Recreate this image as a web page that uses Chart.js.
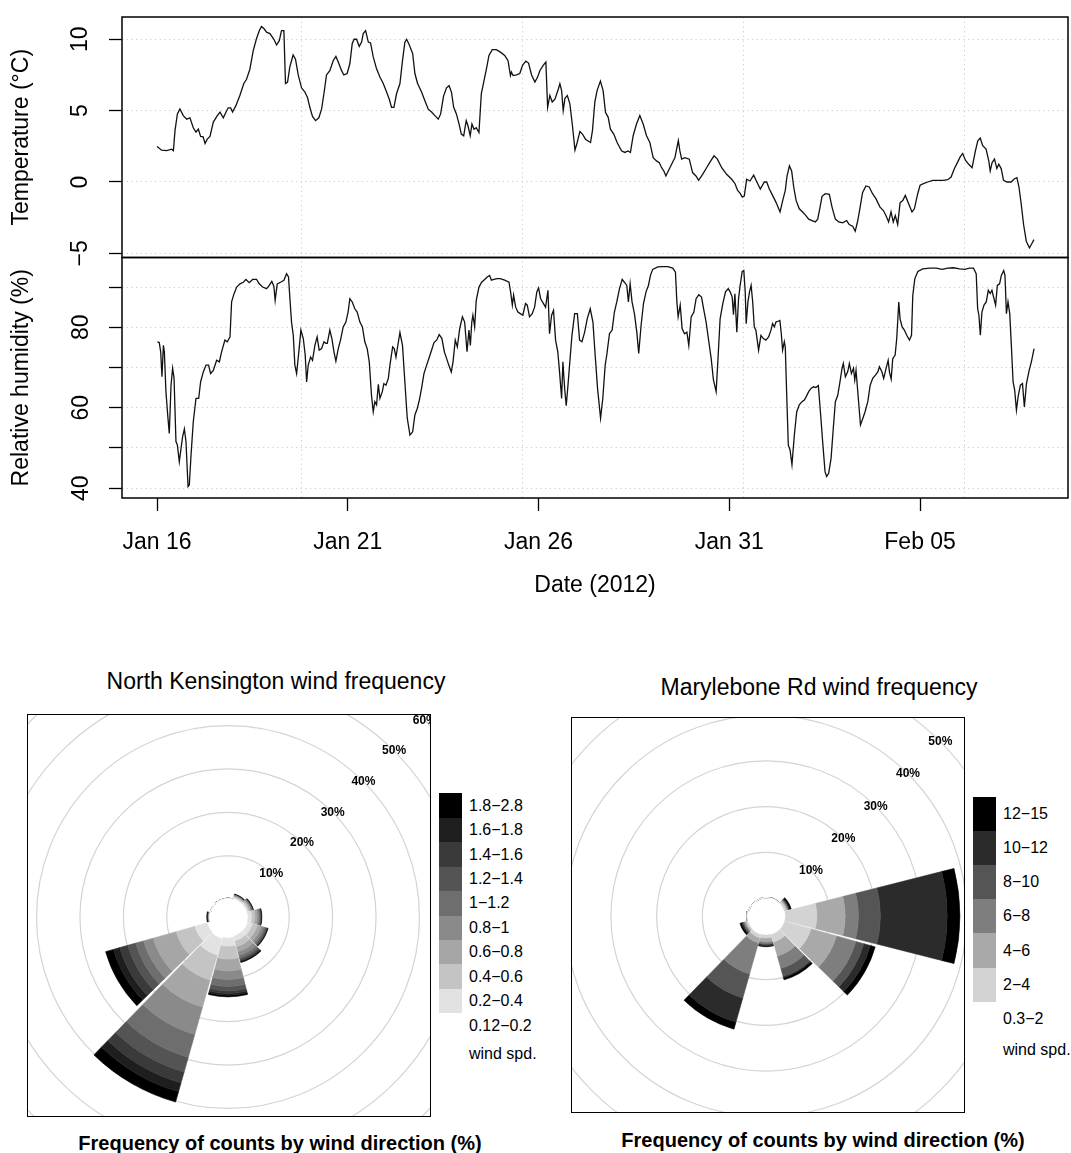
<!DOCTYPE html>
<html>
<head>
<meta charset="utf-8">
<title>Temperature, humidity and wind frequency, January–February 2012</title>
<script src="https://cdn.jsdelivr.net/npm/chart.js@4.4.1/dist/chart.umd.min.js"></script>
<style>
  html, body { margin: 0; padding: 0; background: #fff; }
  body { width: 1071px; height: 1153px; position: relative; overflow: hidden;
         font-family: "Liberation Sans", Arial, Helvetica, sans-serif; color: #000; }
  #met { position: absolute; left: 0; top: 0; }
  .rose-box { position: absolute; box-sizing: border-box; border: 1.5px solid #000; overflow: hidden; background: #fff; }
  .rose-box canvas { position: absolute; }
  .rose-title { position: absolute; font-size: 23px; line-height: 23px; white-space: nowrap; transform: translateX(-50%); }
  .rose-sub { position: absolute; font-size: 20px; line-height: 20px; font-weight: bold; white-space: nowrap; transform: translateX(-50%); }
  .key-swatch { position: absolute; width: 23px; }
  .key-label { position: absolute; font-size: 16px; line-height: 16px; white-space: nowrap; }
</style>
</head>
<body>
<canvas id="met" width="1071" height="620"></canvas>

<div class="rose-title" style="left:276px; top:670px;">North Kensington wind frequency</div>
<div class="rose-box" style="left:27px; top:714px; width:404px; height:403px;">
  <canvas id="nkRose" width="600" height="600" style="left:-100px; top:-98px;"></canvas>
</div>
<div id="nkKey"></div>
<div class="rose-sub" style="left:280px; top:1133px;">Frequency of counts by wind direction (%)</div>

<div class="rose-title" style="left:819px; top:676px;">Marylebone Rd wind frequency</div>
<div class="rose-box" style="left:571px; top:717px; width:394px; height:396px;">
  <canvas id="mrRose" width="600" height="600" style="left:-106px; top:-102px;"></canvas>
</div>
<div id="mrKey"></div>
<div class="rose-sub" style="left:823px; top:1130px;">Frequency of counts by wind direction (%)</div>

<script>
// ---------------------------------------------------------------------------
// Hourly met series, hours after 2012-01-16 00:00
// ---------------------------------------------------------------------------
const tempHour = [0,2.9,6,9.2,10.3,11.3,12.8,14.4,16.5,18.7,20.7,22.8,24.5,26,27.4,29,30.2,31.6,33.3,35.4,37.9,39.6,41.7,43.4,44.8,46.3,47.5,49.6,52.1,54.6,56.3,58.4,60.5,62.6,64.3,65.7,67.2,68.9,71,73.5,75.2,76.9,78.3,79.8,80.8,82.1,83.5,85.6,87.1,88.8,90.9,93,94.7,96.2,97.8,99.7,101.8,103.5,105,106.6,108.7,110.8,112.5,114,116.1,117.5,119.6,121.3,122.8,124,125.5,127.2,128.7,129.7,131.2,132.9,134.3,136,138.1,140.2,142.3,144.4,146.1,147.5,149,150.7,152.8,154.4,155.9,157,158.7,160.8,162.2,163.9,166.4,168.5,170.6,172.7,174.8,176.9,178.4,180.2,182.1,183.7,185.2,186.6,188.3,190,191.4,192.9,194.5,195.6,197,198.1,199.4,200.8,202.5,204,205.5,207.2,208.8,210.9,213.4,216,218.7,220.8,222.3,222.9,224,226.1,228.2,229.9,232,233.7,235.6,237.7,239.4,240.8,242.9,244.6,245.7,247.1,248.6,250.3,252.4,253.4,254.5,255.5,256.6,258.1,259.7,261.2,262.9,264.3,266,267.6,269.5,272.7,273.9,275.4,276.8,278.9,280.6,282.1,283.8,285.2,287.3,289.4,292.2,294.2,296.3,297.8,299.5,301.6,303.7,305.8,307.9,310,312.1,314.2,315.9,317.4,318.8,320.1,321.6,323.7,325.8,327.9,328.9,330,332.1,334.8,336.9,339,340.7,343.2,345.7,348.3,350.4,352.5,355.2,358.3,361.5,363.6,365.2,366.7,368.2,369.4,370.9,373,375.3,377.4,379.5,382,383.5,385.1,387.2,389.3,391.9,393.6,395.2,396.3,397.8,399.2,400.5,402,404,406.1,407.8,409.9,412,414.1,415.6,417,418.3,420.4,422.9,424.6,426.7,428.8,431.3,433.8,435.4,437.6,439.2,440.7,442.2,443.8,445.9,448,450.1,452.2,454.8,456.9,458.5,460.2,461.7,463.1,464.4,465.9,467.4,469.1,470.7,472.8,474.9,476.4,478.5,480,482.1,484.8,488,491.1,494.3,497.4,499.5,501.6,503.7,505.2,506.8,508.5,510.6,512.7,514.8,516.3,517.8,519.4,521.5,523.2,524.1,525.3,526.8,528.3,529.5,531,532.5,534.6,537.3,539.4,540.9,542.2,543.6,545.1,546.8,548.8,550.5,551.6];
const tempC = [2.49,2.23,2.2,2.3,2.2,3.6,4.77,5.12,4.65,4.4,4.5,3.8,3.5,3.7,3.2,3.17,2.7,3.0,3.2,4.2,4.65,4.9,4.5,4.9,5.2,5.2,4.9,5.35,6.06,6.9,7.2,7.9,9.2,10.05,10.6,10.9,10.75,10.5,10.4,10.0,9.6,9.9,10.6,10.6,6.9,7.0,8.05,8.9,8.6,7.5,6.6,6.3,5.9,5.2,4.6,4.3,4.5,5.1,6.2,7.5,7.8,8.5,8.8,8.4,7.8,7.5,7.6,8.3,9.7,10.0,10.0,9.5,9.8,10.4,10.6,9.8,9.74,8.76,7.93,7.35,6.9,6.3,5.8,5.23,5.23,6.2,6.9,8.5,9.8,10.0,9.6,9.0,7.6,6.9,6.3,5.7,5.1,4.9,4.65,4.4,4.77,6.0,6.6,6.75,6.3,5.23,4.77,4.06,3.36,3.24,4.3,3.94,3.24,4.06,3.7,3.8,3.47,6.2,7.0,7.93,8.87,9.27,9.27,9.1,8.87,8.5,7.46,7.7,7.46,7.5,7.6,8.17,8.47,8.33,7.5,7.0,7.35,7.8,8.17,8.4,5.23,6.06,5.6,5.8,6.5,6.88,6.4,5.0,5.87,6.06,5.47,4.06,2.23,2.77,3.54,3.36,3.0,2.77,3.6,5.6,6.4,7.07,6.4,4.88,4.53,3.7,3.36,2.77,2.18,2.07,2.18,2.07,3.24,4.06,4.65,4.06,3.24,2.77,1.71,1.48,1.36,1.0,0.77,0.42,0.77,1.24,1.71,2.9,2.18,1.6,1.71,1.6,0.66,0.42,0.12,0.54,1.0,1.48,1.83,1.6,1.0,0.54,0.19,-0.12,-0.59,-0.78,-1.06,-0.99,0.19,0.07,0.48,-0.02,-0.5,0,0,-0.47,-0.94,-1.41,-2.1,-1.29,-0.59,0.42,1.13,0.77,-0.35,-1.29,-1.88,-2.1,-2.3,-2.6,-2.7,-2.8,-2.6,-1.81,-1.0,-0.82,-0.87,-1.76,-2.6,-2.8,-2.86,-2.7,-2.98,-3.1,-3.45,-2.75,-1.81,-0.75,-0.28,-0.35,-0.82,-1.17,-1.76,-2.0,-2.35,-2.8,-2.1,-2.8,-2.35,-2.98,-1.46,-1.3,-0.94,-1.53,-2.1,-1.88,-0.82,-0.23,-0.12,0,0.12,0.12,0.12,0.16,0.35,0.94,1.41,1.76,2.0,1.53,1.24,1.0,2.18,2.89,3.08,2.54,2.3,1.48,0.77,1.36,1.6,0.94,1.24,0.94,0.12,0,0,0.23,0.3,-0.35,-1.53,-2.98,-4.15,-4.62,-4.27,-4.04];

const rhHour = [0.2,1.4,2.3,3.1,4,4.6,5.6,6.7,7.7,8.8,9.8,10.7,11.9,12.8,14,15.1,16.1,17.2,18.2,19.5,20.3,21.4,22.8,24.5,26.2,27.4,29.1,30.8,32.4,33.7,35.4,37.5,39.2,40.6,42.7,44.2,45.9,46.9,48.4,50.1,52.2,54.3,55.9,58,60.1,62.6,64.3,66.4,68.9,70.6,72.2,73.5,74.3,75.6,77.7,79.8,81.5,82.7,83.6,84.6,85.7,86.7,87.8,89.2,90.5,92,93.2,94.1,95.1,96.6,97.8,99.3,100.7,102,103.5,105,106.2,107.1,108.7,110,111.3,112.5,114,115.4,117.1,118.8,120.2,121.3,122.8,124.4,125.9,127.6,129.2,130.7,132.2,133.5,134.9,136,137,138.1,139.2,140.2,141.7,142.7,144,145.5,146.5,148.2,149.2,150.3,151.3,152.8,154.4,155.9,157.4,159.1,160.8,162.2,163.7,165,166.4,167.9,169.6,171.3,172.7,174.2,175.9,177.5,179.2,180.8,182.2,183.5,185.1,186.2,187.6,188.9,190.4,192.1,193.5,195,196.2,197.1,198,198.7,199.8,200.8,202.5,204.2,206.1,207.7,209.2,210.3,211.9,213.8,215.9,218.7,221.4,222.4,223.5,224.3,225.6,227,228.5,230.1,231.8,232.9,234.3,236,237.5,238.9,240,241.3,243.1,244.4,245.9,246.9,248.2,249.4,250.7,252.1,253.2,254.5,255.3,256.4,257.4,258.5,259.5,261,262.7,264.4,265.8,267.3,269,270.6,272.5,274.2,275.6,277.1,279,280.4,281.9,282.9,284.6,286.3,287.7,289.2,290.9,292.6,294,295.5,296.5,297.6,298.8,300.3,301.8,303,304.5,306,307.6,309.1,310.4,311.8,315,318.1,321.3,324.4,326.1,327,327.8,329.1,330.3,331.8,333.3,334.5,336,337.7,339.1,340.8,342.5,344,345.4,347.1,348.6,350,351.7,353,354.2,355.9,357.6,359.3,360.5,361.8,362.6,363.5,364.7,365.8,366.8,368.1,369.1,370,370.6,371.7,372.7,373.7,374.7,375.7,376.7,378.4,379.9,381.4,383,384.7,386.2,387.2,388.3,389.3,390.6,391.8,392.7,393.5,394.6,395.2,396.1,397.1,398.2,399.4,400.9,402.4,404,405.7,407.2,408.3,409.9,411.4,412.9,414.5,416,417.3,418.7,420.2,421.2,422.5,424,425.4,426.7,428.2,429.6,430.9,431.7,433,434.5,435.5,436.8,438.1,438.9,439.7,440.8,442.5,444,445.4,447.1,448.6,450.2,451.9,453.4,454.4,455.9,457.1,458.6,459.9,460.7,461.8,462.8,464.3,465.3,466.6,467.4,468.7,470.1,471.6,473.3,474.6,475.4,476.7,478.6,481.7,485.9,490.1,493.9,497.4,501,504.8,508,511.1,513.6,515.3,516.2,517,517.9,518.9,520.2,521.6,522.9,524.1,525.2,526.5,527.5,528.6,530,531.1,532.6,533.4,534.3,535.3,536.4,537.4,538.5,539.5,540.6,541.8,543.1,544.4,545.6,546.9,548.6,550,551.7];
const rhPct = [76.4,76.2,73.9,67.7,75.5,73.9,64.0,58.2,53.6,65.6,69.8,67.3,51.6,50.7,46.6,49.9,52.8,54.7,51.6,40.4,40.8,48.3,56.5,62.3,62.3,66.4,68.9,70.6,70.6,68.5,69.3,71.8,71.4,73.9,76.8,76.4,77.6,86.3,88.3,90.0,90.8,91.2,91.9,91.1,91.9,91.9,90.8,90.0,89.6,90.4,91.4,90.2,86.7,90.8,91.2,91.7,93.3,92.5,87.1,81.3,78.0,70.6,68.5,73.9,79.3,77.2,73.1,66.4,70.6,72.6,71.8,75.5,77.6,74.3,74.7,76.4,76.0,76.0,79.3,77.2,73.9,71.6,74.7,76.8,80.1,81.3,83.8,87.1,86.3,84.6,83.8,81.3,80.1,76.4,74.7,71.4,63.1,59.0,61.5,60.7,65.8,62.3,64.0,66.0,65.6,67.3,70.6,75.1,74.7,72.6,75.1,78.7,75.5,66.4,57.4,53.2,54.0,58.2,59.8,61.9,64.8,68.5,70.6,72.6,74.3,76.2,76.8,78.2,77.2,73.8,72.2,70.6,68.9,71.4,76.8,75.1,79.7,82.6,81.3,73.9,79.3,75.5,81.3,83.0,80.1,86.7,90.0,91.2,91.9,92.5,92.9,91.7,91.9,92.1,92.1,91.7,91.2,88.8,85.5,88.0,85.0,83.8,83.4,83.0,85.9,85.5,82.6,83.4,85.0,88.8,89.8,87.1,85.9,85.0,89.2,78.4,83.0,84.2,76.8,73.9,68.9,62.3,71.4,64.8,60.5,65.6,70.6,78.0,83.4,83.4,76.8,76.4,78.8,82.1,84.6,81.3,73.1,64.8,57.4,62.3,70.6,73.1,78.4,79.3,83.8,86.3,89.6,91.9,91.2,90.4,86.3,90.8,86.3,83.4,78.8,73.5,80.5,85.9,88.8,90.4,92.9,94.4,95.0,95.1,95.1,94.7,93.7,86.3,82.6,85.5,79.7,78.4,78.8,75.5,82.6,83.8,87.1,88.1,87.5,84.2,81.3,76.4,72.2,66.9,64.0,73.1,82.1,85.9,88.8,89.6,88.8,87.5,83.1,88.3,78.8,87.1,90.4,93.9,94.1,88.8,80.9,86.3,88.8,90.4,86.3,80.1,79.3,74.3,78.0,77.2,76.8,77.6,79.3,80.9,80.1,81.3,81.5,81.7,78.4,74.3,76.4,75.1,63.1,50.7,49.5,45.8,53.2,59.0,60.7,61.5,61.9,62.7,64.0,64.8,65.2,65.0,65.5,59.0,51.6,44.1,42.9,43.7,47.4,54.9,61.5,63.1,66.4,69.8,71.0,67.7,69.0,71.0,68.5,69.8,66.9,69.3,64.0,55.7,57.4,59.0,61.5,65.6,67.3,68.1,68.9,70.2,69.0,67.3,69.8,71.8,68.9,67.1,72.2,73.1,77.2,86.3,82.1,80.1,79.3,78.0,76.8,78.0,87.9,92.1,93.9,94.5,94.7,94.7,94.4,94.7,94.8,94.5,94.4,94.7,94.7,93.3,84.6,83.0,78.0,83.8,85.5,86.3,89.2,88.4,89.2,87.1,85.5,90.4,90.8,92.9,94.1,92.9,83.4,86.3,83.4,75.5,66.4,64.4,59.4,63.1,65.6,66.0,60.2,66.0,69.3,71.4,74.7];

// Date axis: labelled days, and the reference grid every 500 000 s of epoch time
const dateTickHours = [0, 120, 240, 360, 480];
const dateTickLabels = ['Jan 16', 'Jan 21', 'Jan 26', 'Jan 31', 'Feb 05'];
const epochGridSeconds = [1327000000, 1327500000, 1328000000, 1328500000];
const epochOrigin = 1326672000;           // 2012-01-16 00:00 UTC
const tempTicks = [-5, 0, 5, 10];
const rhTicks = [40, 50, 60, 70, 80, 90];
const rhLabelled = [40, 60, 80];

// ---------------------------------------------------------------------------
// Wind roses: 12 sectors of 30°, percentage of hours per speed bin
// ---------------------------------------------------------------------------
const sectors = ['N', 'NNE', 'ENE', 'E', 'ESE', 'SSE', 'S', 'SSW', 'WSW', 'W', 'WNW', 'NNW'];
const ringPct = [10, 20, 30, 40, 50, 60];

// North Kensington, speed bins (lowest first)
const nkBinLabels = ['0.12\u22120.2', '0.2\u22120.4', '0.4\u22120.6', '0.6\u22120.8', '0.8\u22121',
                     '1\u22121.2', '1.2\u22121.4', '1.4\u22121.6', '1.6\u22121.8', '1.8\u22122.8'];
const nkBin0 = [0.1, 0.2, 0.25, 0.35, 0.5, 0.4, 0.6, 1.0, 0.8, 0.1, 0.1, 0.1];
const nkBin1 = [0.1, 0.3, 0.4, 0.95, 1.2, 1.2, 2.0, 4.0, 3.0, 0.1, 0, 0.1];
const nkBin2 = [0, 0.25, 0.35, 0.75, 1.2, 1.4, 3.0, 6.0, 4.5, 0.05, 0, 0];
const nkBin3 = [0, 0.2, 0.3, 0.55, 0.9, 1.2, 2.7, 6.5, 5.5, 0.05, 0, 0];
const nkBin4 = [0, 0.1, 0.2, 0.4, 0.6, 0.9, 2.0, 6.5, 2.3, 0.05, 0, 0];
const nkBin5 = [0, 0.05, 0.15, 0.25, 0.4, 0.6, 1.6, 5.5, 1.9, 0.05, 0, 0];
const nkBin6 = [0, 0.05, 0.1, 0.15, 0.3, 0.4, 1.0, 3.5, 1.9, 0.05, 0, 0];
const nkBin7 = [0, 0.05, 0.05, 0.1, 0.15, 0.3, 0.6, 2.6, 1.9, 0.05, 0, 0];
const nkBin8 = [0, 0.05, 0.05, 0.1, 0.1, 0.15, 0.4, 2.1, 1.5, 0.1, 0, 0];
const nkBin9 = [0, 0.15, 0.15, 0.1, 0.15, 0.25, 0.4, 2.5, 1.9, 0.2, 0, 0];

// Marylebone Road, speed bins (lowest first)
const mrBinLabels = ['0.3\u22122', '2\u22124', '4\u22126', '6\u22128', '8\u221210', '10\u221212', '12\u221215'];
const mrBin0 = [0.1, 0.1, 0.1, 0.2, 0.2, 0.2, 0.1, 0.2, 0.1, 0.1, 0, 0];
const mrBin1 = [0, 0.1, 0.5, 7.0, 6.1, 1.8, 0.8, 0.8, 0.4, 0.2, 0, 0];
const mrBin2 = [0, 0, 0.3, 6.2, 5.8, 3.2, 0.8, 1.2, 0.3, 0, 0, 0];
const mrBin3 = [0, 0, 0.2, 2.9, 4.4, 2.8, 0.4, 7.05, 0.3, 0, 0, 0];
const mrBin4 = [0, 0, 0.1, 4.8, 1.8, 1.8, 0.2, 5.45, 0.2, 0, 0, 0];
const mrBin5 = [0, 0, 0.2, 14.6, 1.5, 0.3, 0.3, 5.5, 0.3, 0, 0, 0];
const mrBin6 = [0, 0, 0.4, 2.8, 1.1, 0.5, 0.2, 1.6, 0.4, 0, 0, 0];

// ---------------------------------------------------------------------------
// Styling
// ---------------------------------------------------------------------------
const FONT = '"Liberation Sans", Arial, Helvetica, sans-serif';
Chart.defaults.font.family = FONT;
Chart.defaults.color = '#000';

const nkGreys = ['#ffffff', '#e2e2e2', '#c4c4c4', '#a6a6a6', '#8a8a8a', '#6e6e6e', '#545454', '#3a3a3a', '#1e1e1e', '#000000'];
const mrGreys = ['#ffffff', '#d3d3d3', '#a9a9a9', '#7e7e7e', '#555555', '#2b2b2b', '#000000'];

const DOT = [1.3, 3.4];
const GRID_GREY = '#cfcfcf';
const X_MIN = -22.04, X_MAX = 573.04;

// Box round each panel of the met plot
const panelFrame = {
  id: 'panelFrame',
  afterDatasetsDraw(chart) {
    const { ctx, chartArea } = chart;
    ctx.save();
    ctx.strokeStyle = '#000';
    ctx.lineWidth = 1.5;
    ['yT', 'yH'].forEach(id => {
      const s = chart.scales[id];
      ctx.strokeRect(chartArea.left, s.top, chartArea.right - chartArea.left, s.bottom - s.top);
    });
    ctx.restore();
  }
};

// Scales keep their fixed sizes; no extra room is reserved for overhanging labels
const noOverhang = s => { s.paddingTop = 0; s.paddingBottom = 0; s.paddingLeft = 0; s.paddingRight = 0; };

const toPoints = (xs, ys) => xs.map((x, i) => ({ x, y: ys[i] }));
const minus = v => String(v).replace('-', '\u2212');

function valueYAxis(opts) {
  return {
    type: 'linear',
    position: 'left',
    stack: 'met',
    stackWeight: 1,
    min: opts.min,
    max: opts.max,
    afterBuildTicks: s => { s.ticks = opts.ticks.map(v => ({ value: v })); },
    afterFit: s => { s.width = 122; noOverhang(s); },
    ticks: {
      autoSkip: false,
      minRotation: 90,
      maxRotation: 90,
      crossAlign: 'center',
      padding: 15,
      font: { size: 23 },
      color: '#000',
      callback: opts.label
    },
    grid: {
      color: GRID_GREY,
      lineWidth: 1,
      borderDash: DOT,
      drawTicks: true,
      tickLength: 13,
      tickColor: '#000',
      tickWidth: 1.3,
      tickBorderDash: []
    },
    border: { display: false, dash: DOT },
    title: { display: true, text: opts.title, font: { size: 23 }, color: '#000', padding: { top: 8, bottom: 0 } }
  };
}

new Chart(document.getElementById('met'), {
  type: 'line',
  data: {
    datasets: [
      { label: 'Temperature', data: toPoints(tempHour, tempC), xAxisID: 'x', yAxisID: 'yT',
        borderColor: '#111', borderWidth: 1.3, pointRadius: 0, tension: 0, fill: false },
      { label: 'Relative humidity', data: toPoints(rhHour, rhPct), xAxisID: 'x', yAxisID: 'yH',
        borderColor: '#111', borderWidth: 1.3, pointRadius: 0, tension: 0, fill: false }
    ]
  },
  options: {
    responsive: false,
    animation: false,
    events: [],
    layout: { autoPadding: false, padding: { top: 17, right: 3, left: 0, bottom: 0 } },
    plugins: { legend: { display: false }, tooltip: { enabled: false } },
    scales: {
      // humidity is listed first so that the stacked layout puts it in the lower panel
      yH: valueYAxis({ min: 37.55, max: 97.35, ticks: rhTicks, title: 'Relative humidity (%)',
                       label: v => rhLabelled.includes(v) ? String(v) : '' }),
      yT: valueYAxis({ min: -5.29, max: 11.56, ticks: tempTicks, title: 'Temperature (\u00B0C)', label: v => minus(v) }),
      xg: {
        type: 'linear',
        position: 'top',
        min: X_MIN, max: X_MAX,
        afterBuildTicks: s => { s.ticks = epochGridSeconds.map(t => ({ value: (t - epochOrigin) / 3600 })); },
        afterFit: s => { s.height = 0; noOverhang(s); },
        ticks: { display: false },
        grid: { color: GRID_GREY, lineWidth: 1, borderDash: DOT, drawTicks: false },
        border: { display: false, dash: DOT }
      },
      x: {
        type: 'linear',
        position: 'bottom',
        min: X_MIN, max: X_MAX,
        afterBuildTicks: s => { s.ticks = dateTickHours.map(v => ({ value: v })); },
        afterFit: s => { s.height = 122; noOverhang(s); },
        ticks: {
          autoSkip: false,
          maxRotation: 0,
          padding: 18,
          font: { size: 23 },
          color: '#000',
          callback: v => { const i = dateTickHours.indexOf(v); return i >= 0 ? dateTickLabels[i] : ''; }
        },
        grid: { drawOnChartArea: false, drawTicks: true, tickLength: 13, tickColor: '#000', tickWidth: 1.3, tickBorderDash: [] },
        border: { display: false },
        title: { display: true, text: 'Date (2012)', font: { size: 23 }, color: '#000', padding: { top: 0, bottom: 21 } }
      }
    }
  },
  plugins: [panelFrame]
});

// ---------------------------------------------------------------------------
// Wind roses
// ---------------------------------------------------------------------------
// Turns the overlapping polar-area arcs into stacked annular segments and
// leaves a thin gap between neighbouring direction sectors.
const roseStack = {
  id: 'roseStack',
  afterDatasetsUpdate(chart) {
    const scale = chart.scales.r;
    const gap = 0.8 * Math.PI / 180;
    chart.data.datasets.forEach((ds, j) => {
      const below = j > 0 ? chart.data.datasets[j - 1].data : null;
      chart.getDatasetMeta(j).data.forEach((arc, i) => {
        arc.innerRadius = scale.getDistanceFromCenterForValue(below ? below[i] : 0);
        arc.startAngle += gap;
        arc.endAngle -= gap;
      });
    });
  }
};

// Percentage labels along the north-east diagonal
const ringLabels = {
  id: 'ringLabels',
  afterDraw(chart) {
    const s = chart.scales.r;
    const ctx = chart.ctx;
    const a = Math.PI / 4;
    ctx.save();
    ctx.font = 'bold 12px ' + FONT;
    ctx.fillStyle = '#000';
    ctx.textAlign = 'center';
    ctx.textBaseline = 'middle';
    ringPct.forEach(v => {
      const r = s.getDistanceFromCenterForValue(v);
      ctx.fillText(v + '%', s.xCenter + r * Math.sin(a), s.yCenter - r * Math.cos(a));
    });
    ctx.restore();
  }
};

function drawRose(canvasId, bins, greys, rMin, rMax) {
  let running = sectors.map(() => 0);
  const datasets = bins.map((bin, j) => {
    running = running.map((v, i) => v + bin[i]);
    return { label: 'bin ' + j, data: running.slice(), backgroundColor: greys[j], borderColor: greys[j], borderWidth: 0.6 };
  });
  return new Chart(document.getElementById(canvasId), {
    type: 'polarArea',
    data: { labels: sectors, datasets },
    options: {
      responsive: false,
      animation: false,
      events: [],
      layout: { padding: 0 },
      plugins: { legend: { display: false }, tooltip: { enabled: false } },
      scales: {
        r: {
          min: rMin,
          max: rMax,
          startAngle: -15,
          afterBuildTicks: s => { s.ticks = ringPct.map(v => ({ value: v })); },
          ticks: { display: false },
          grid: { color: '#d4d4d4', lineWidth: 1.2, circular: true },
          angleLines: { display: false },
          pointLabels: { display: false }
        }
      }
    },
    plugins: [roseStack, ringLabels]
  });
}

drawRose('nkRose', [nkBin0, nkBin1, nkBin2, nkBin3, nkBin4, nkBin5, nkBin6, nkBin7, nkBin8, nkBin9], nkGreys, -4.1, 65.0);
drawRose('mrRose', [mrBin0, mrBin1, mrBin2, mrBin3, mrBin4, mrBin5, mrBin6], mrGreys, -3.92, 61.7);

// Colour keys: highest speed bin at the top
function buildKey(hostId, labels, greys, swatchLeft, top, swatchH, labelLeft, footY) {
  const host = document.getElementById(hostId);
  const n = labels.length;
  for (let k = 0; k < n; k++) {
    const bin = n - 1 - k;
    const y = Math.round(top + k * swatchH);
    const yNext = Math.round(top + (k + 1) * swatchH);
    const sw = document.createElement('div');
    sw.className = 'key-swatch';
    sw.style.left = swatchLeft + 'px';
    sw.style.top = y + 'px';
    sw.style.height = (yNext - y) + 'px';
    sw.style.background = greys[bin];
    host.appendChild(sw);
    const lb = document.createElement('div');
    lb.className = 'key-label';
    lb.style.left = labelLeft + 'px';
    lb.style.top = (top + (k + 0.5) * swatchH - 7.8) + 'px';
    lb.textContent = labels[bin];
    host.appendChild(lb);
  }
  const foot = document.createElement('div');
  foot.className = 'key-label';
  foot.style.left = labelLeft + 'px';
  foot.style.top = (footY - 7.8) + 'px';
  foot.textContent = 'wind spd.';
  host.appendChild(foot);
}

buildKey('nkKey', nkBinLabels, nkGreys, 439, 793.3, 24.44, 469, 1054);
buildKey('mrKey', mrBinLabels, mrGreys, 973, 796.7, 34.17, 1003, 1050);
</script>
</body>
</html>
